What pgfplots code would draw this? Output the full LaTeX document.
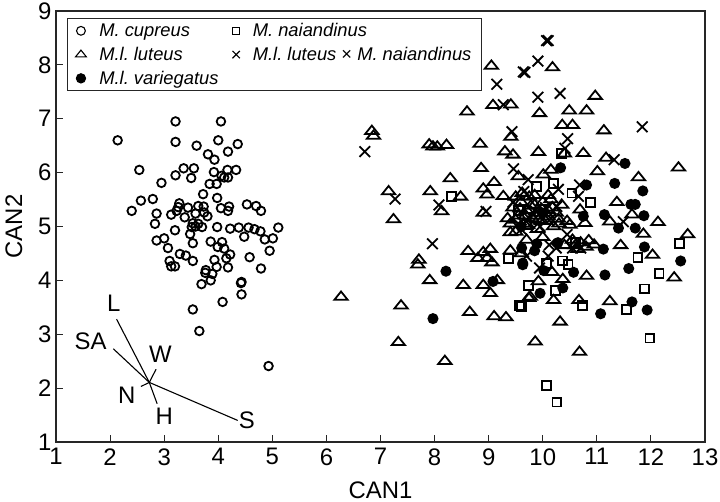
\documentclass[border=0pt]{standalone}
\usepackage{fontspec}
\setmainfont{Liberation Sans}
\usepackage{pgfplots}
\pgfplotsset{compat=1.18}
\newcommand\biplotfont{\fontsize{24}{26}\selectfont}
\frenchspacing
\begin{document}
\begin{tikzpicture}[x=1bp,y=1bp]
\useasboundingbox (0,0) rectangle (720,502);
\begin{axis}[
  at={(56bp,60bp)}, anchor=south west,
  width=649bp, height=431bp, scale only axis,
  xmin=1, xmax=13, ymin=1, ymax=9,
  xtick={1,...,13}, ytick={1,...,9},
  tick align=inside, xtick pos=bottom, ytick pos=left,
  major tick length=6.5bp,
  axis line style={line width=1.2bp, black!85},
  tick style={line width=1bp, black!85},
  tick label style={font=\fontsize{24}{26}\selectfont},
  /pgf/number format/assume math mode=true,
  xticklabel style={yshift=-3bp},
  yticklabel style={xshift=-1bp},
  xlabel={CAN1}, ylabel={CAN2},
  label style={font=\fontsize{24}{26}\selectfont},
  xlabel style={at={(axis description cs:0.5,0)}, anchor=north, yshift=-36bp, xshift=0bp},
  ylabel style={at={(axis description cs:0,0.5)}, anchor=south, yshift=30bp},
  legend columns=2,
  legend cell align=left,
  legend style={at={(0.017,0.984)}, anchor=north west, font=\fontsize{18.4}{20}\selectfont,
    draw=black!85, line width=1.1bp, inner xsep=8bp, inner ysep=3bp, row sep=5bp,
    /tikz/every even column/.append style={column sep=12bp},
    /tikz/every odd column/.append style={column sep=11bp}},
  every axis plot/.append style={only marks, line width=1.8bp},
]
% M. cupreus
\addplot[black, mark=o, mark size=4.3bp, legend image post style={mark size=4.4bp, line width=1.1bp}] coordinates {
(3.21,6.95)(4.05,6.95)(2.14,6.60)(3.21,6.57)(4.00,6.60)(3.60,6.50)(4.36,6.53)(3.81,6.34)(4.18,6.39)(3.93,6.24)
(2.54,6.05)(3.36,6.08)(3.55,6.08)(3.21,5.95)(3.50,5.90)(3.92,6.01)(4.17,6.05)(4.33,6.05)(4.06,5.94)(4.11,5.91)
(4.18,5.91)(2.95,5.81)(3.84,5.79)(3.97,5.79)(3.72,5.60)(3.98,5.53)(2.57,5.48)(2.79,5.51)(2.40,5.29)(3.28,5.43)
(3.26,5.36)(3.23,5.29)(3.44,5.35)(3.63,5.38)(3.73,5.37)(4.20,5.37)(4.05,5.34)(4.18,5.29)(4.53,5.41)(4.70,5.38)
(4.79,5.29)(2.86,5.24)(3.13,5.22)(3.38,5.17)(3.74,5.26)(3.80,5.19)(2.83,5.05)(3.53,5.06)(3.63,5.05)(3.51,4.99)
(3.58,5.00)(3.70,4.99)(3.20,4.93)(3.48,4.86)(3.98,4.99)(4.22,4.96)(4.38,4.98)(4.56,4.98)(4.67,4.95)(4.78,4.91)
(5.11,4.98)(4.48,4.81)(4.86,4.76)(5.01,4.78)(2.86,4.74)(3.00,4.78)(3.53,4.69)(3.86,4.72)(4.07,4.71)(3.07,4.60)
(3.99,4.62)(4.11,4.59)(4.95,4.55)(3.29,4.49)(3.40,4.46)(4.22,4.48)(4.58,4.43)(4.15,4.41)(3.93,4.38)(3.10,4.36)
(3.53,4.36)(3.13,4.26)(3.20,4.26)(3.97,4.25)(4.18,4.24)(4.79,4.22)(3.77,4.19)(3.76,4.14)(3.89,4.12)(3.86,4.00)
(3.69,3.93)(4.43,3.97)(4.42,3.95)(4.43,3.74)(4.08,3.60)(3.53,3.46)(3.65,3.06)(4.93,2.41)(3.58,5.24)
};
\addlegendentry{\textit{M. cupreus}}
% M. naiandinus
\addplot[black, mark=square, mark size=4.4bp, legend image post style={mark size=3.6bp, line width=1.1bp}] coordinates {
(8.31,5.56)(10.35,6.36)(9.88,5.74)(10.20,5.80)(10.54,5.62)(10.88,5.45)(9.70,5.03)(9.37,4.41)(9.57,3.53)(9.74,3.91)
(12.53,4.68)(11.76,4.43)(12.15,4.13)(11.88,3.84)(11.55,3.46)(10.73,3.53)(10.23,3.81)(10.47,4.30)(10.37,4.36)(10.07,4.31)
(9.61,3.52)(11.98,2.93)(10.07,2.05)(10.26,1.74)(9.55,5.30)(10.6,4.70)
};
\addlegendentry{\textit{M. naiandinus}}
% M.l. luteus
\addplot[black, mark=triangle, mark size=7.7bp, mark options={yscale=0.72}, legend image post style={mark size=6.2bp, line width=1.1bp}] coordinates {
(9.05,7.98)(8.60,7.13)(9.08,7.25)(9.41,7.26)(6.84,6.77)(6.87,6.68)(7.90,6.52)(7.97,6.48)(8.05,6.48)(8.22,6.51)
(8.84,6.53)(9.30,6.39)(9.45,6.33)(9.41,6.66)(8.86,6.08)(8.29,5.89)(9.10,5.82)(8.90,5.70)(8.97,5.59)(7.15,5.65)
(7.92,5.65)(8.48,5.55)(8.13,5.28)(7.24,5.13)(8.90,5.25)(9.27,5.56)(9.55,5.93)(10.18,7.95)(10.97,7.42)(9.94,7.10)
(10.49,7.15)(10.81,7.15)(10.36,6.88)(10.55,6.88)(11.13,6.78)(9.92,6.38)(10.40,6.35)(10.75,6.36)(11.17,6.27)(11.01,6.02)
(12.51,6.09)(10.15,6.05)(10.01,5.96)(11.77,5.91)(11.37,5.45)(10.10,5.58)(10.69,5.31)(11.65,5.22)(12.13,5.08)(11.24,5.09)
(10.29,5.14)(10.50,5.03)(9.92,5.12)(10.78,5.06)(6.27,3.69)(7.38,3.53)(7.33,2.85)(8.19,2.50)(8.65,3.41)(9.10,3.33)
(9.32,3.31)(7.71,4.38)(7.69,4.29)(7.91,4.00)(8.53,3.91)(8.62,4.54)(8.80,4.41)(8.90,4.52)(9.03,4.58)(9.06,4.33)
(8.90,3.91)(9.16,4.00)(9.03,3.76)(8.97,4.41)(9.74,3.67)(9.40,4.89)(9.86,2.86)(10.32,3.23)(10.68,2.67)(12.68,4.85)
(12.43,4.05)(12.03,4.47)(11.44,4.65)(10.81,4.08)(11.24,3.61)(10.67,3.63)(10.20,3.63)(9.77,3.69)(9.92,3.98)(10.37,4.02)
(10.17,4.15)(11.86,4.86)
(9.35,5.15)(9.45,5.35)(9.50,5.55)(9.55,5.20)(9.60,5.45)(9.65,5.05)(9.70,5.30)(9.75,5.55)(9.80,5.15)(9.85,5.40)
(9.90,4.95)(9.95,5.25)(10.00,5.45)(10.05,5.10)(10.10,5.30)(10.20,5.00)(10.25,5.25)(10.35,5.40)(10.45,5.10)(10.55,4.75)
(10.60,4.65)(10.70,4.70)(10.40,4.65)(10.00,4.80)(9.70,4.75)(9.50,4.90)(9.40,4.55)(9.60,4.50)
(9.40,5.05)(9.50,5.12)(9.58,5.33)(9.68,5.20)(9.78,5.38)(9.88,5.20)(9.98,5.10)(10.10,5.18)(10.18,5.35)(9.72,5.02)
(9.62,5.62)(9.85,5.58)(10.15,5.50)(10.30,5.05)(10.65,4.58)(10.80,4.62)(10.95,4.66)(10.85,4.74)
};
\addlegendentry{\textit{M.l. luteus}}
% hybrid
\addplot[black, mark=x, mark size=7.5bp, legend image post style={mark size=5.2bp, line width=1.1bp}] coordinates {
(9.64,7.87)(9.15,7.64)(9.27,7.26)(9.43,6.76)(6.71,6.39)(9.46,6.07)(7.27,5.51)(8.08,5.40)(8.95,5.28)(10.07,8.45)
(10.10,8.45)(9.91,8.07)(9.67,7.86)(9.91,7.40)(10.32,7.47)(11.84,6.85)(10.46,6.63)(11.32,6.24)(10.29,5.69)(10.68,5.77)
(10.66,5.56)(10.26,5.37)(11.49,5.09)(9.73,5.87)(10.41,6.45)(7.96,4.68)(10.12,4.66)(9.94,4.23)
(9.45,5.45)(9.55,5.05)(9.65,5.65)(9.75,5.15)(9.85,5.30)(9.95,5.00)(10.05,5.35)(10.15,5.15)(9.60,4.95)(9.70,4.45)
(10.10,4.45)(10.25,4.60)(10.45,4.85)(10.55,4.60)(10.70,4.60)
};
\addlegendentry{\textit{M.l. luteus} × \textit{M. naiandinus}}
% M.l. variegatus
\addplot[black, mark=*, mark size=4.6bp, mark options={fill=black}, legend image post style={mark size=4.6bp, line width=1.1bp}] coordinates {
(11.52,6.17)(10.33,6.09)(10.81,5.77)(11.33,5.80)(11.85,5.66)(11.63,5.41)(11.71,5.41)(11.14,5.22)(11.87,5.20)(10.75,5.19)
(11.40,4.97)(11.71,4.97)(8.21,4.17)(7.97,3.29)(9.08,3.98)(9.61,4.60)(9.63,4.32)(12.55,4.36)(11.88,4.62)(11.12,4.58)
(11.59,4.22)(11.15,4.10)(10.57,4.15)(10.37,3.86)(9.95,3.76)(11.65,3.60)(11.93,3.45)(11.07,3.38)(10.02,4.18)(9.63,4.29)
(10.28,4.70)(9.89,4.68)(10.00,5.25)(9.60,5.00)(9.85,4.55)
};
\addlegendentry{\textit{M.l. variegatus}}
% biplot vectors
\addplot[black, no marks, sharp plot, line width=1.1bp, forget plot] coordinates {(2.725,2.106)(2.12,3.28)};
\addplot[black, no marks, sharp plot, line width=1.1bp, forget plot] coordinates {(2.725,2.106)(2.06,2.73)};
\addplot[black, no marks, sharp plot, line width=1.1bp, forget plot] coordinates {(2.725,2.106)(2.85,2.35)};
\addplot[black, no marks, sharp plot, line width=1.1bp, forget plot] coordinates {(2.725,2.106)(2.57,2.03)};
\addplot[black, no marks, sharp plot, line width=1.1bp, forget plot] coordinates {(2.725,2.106)(2.87,1.71)};
\addplot[black, no marks, sharp plot, line width=1.1bp, forget plot] coordinates {(2.725,2.106)(4.36,1.40)};
\node[font=\biplotfont] at (axis cs:2.07,3.57) {L};
\node[font=\biplotfont] at (axis cs:1.64,2.87) {SA};
\node[font=\biplotfont] at (axis cs:2.93,2.63) {W};
\node[font=\biplotfont] at (axis cs:2.31,1.86) {N};
\node[font=\biplotfont] at (axis cs:3.00,1.47) {H};
\node[font=\biplotfont] at (axis cs:4.53,1.40) {S};
\end{axis}
\end{tikzpicture}
\end{document}
